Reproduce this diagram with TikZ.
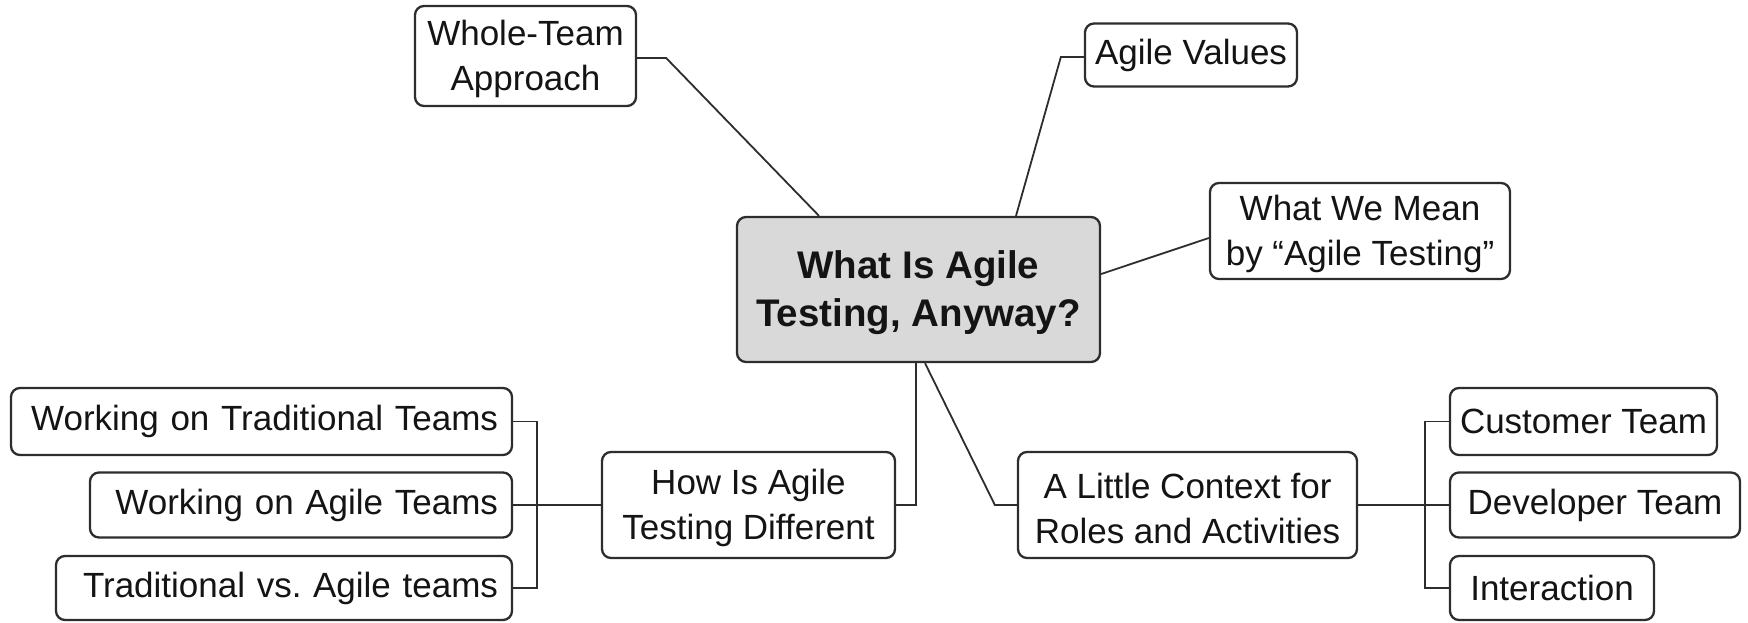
\documentclass[tikz,border=0pt]{standalone}
\usepackage{fontspec}
\setmainfont{Liberation Sans}
\usetikzlibrary{calc}
\definecolor{edge}{RGB}{45,45,45}
\definecolor{ink}{RGB}{20,20,20}
\definecolor{hubfill}{RGB}{217,217,217}
\newcommand\tup{\rule{0pt}{32pt}}
\newcommand\bup{\rule{0pt}{34pt}}
\begin{document}
\frenchspacing
\begin{tikzpicture}[x=1pt,y=-1pt,
  box/.style={draw=edge, line width=2.3pt, rounded corners=9pt, fill=white, inner sep=0pt, align=center, text=ink, font=\fontsize{35}{45}\selectfont},
  hub/.style={box, fill=hubfill, font=\bfseries\fontsize{38.5}{48}\selectfont},
  link/.style={draw=edge, line width=1.8pt}]
\useasboundingbox (0,0) rectangle (1748,623);
% nodes
\node[hub, minimum width=363pt, minimum height=145pt] (c) at (918.5,289.5) {\bup What Is Agile\\Testing, Anyway?};
\node[box, minimum width=221pt, minimum height=100pt] (whole) at (525.5,56) {\tup Whole-Team\\Approach};
\node[box, minimum width=212pt, minimum height=63pt] (values) at (1191,55) {Agile Values};
\node[box, minimum width=300pt, minimum height=96pt] (mean) at (1360,231) {\tup What We Mean\\by “Agile Testing”};
\node[box, minimum width=293pt, minimum height=106pt] (how) at (748.5,505) {\tup How Is Agile\\Testing Different};
\node[box, minimum width=339pt, minimum height=106pt] (ctx) at (1187.5,505) {\tup A Little Context for\\Roles and Activities};
\node[box, minimum width=501pt, minimum height=67pt, text width=473pt, align=right] (trad) at (261.5,421.5) {Working on Traditional Teams};
\node[box, minimum width=422pt, minimum height=65pt, text width=394pt, align=right] (agileteams) at (301,505) {Working on Agile Teams};
\node[box, minimum width=456pt, minimum height=64pt, text width=428pt, align=right] (tvsa) at (284,588) {Traditional vs. Agile teams};
\node[box, minimum width=267pt, minimum height=67pt] (cust) at (1583.5,421.5) {Customer Team};
\node[box, minimum width=290pt, minimum height=65pt] (dev) at (1595,505) {Developer Team};
\node[box, minimum width=204pt, minimum height=64pt] (inter) at (1552,588) {Interaction};
% bracket points
\coordinate (lb) at ($(how.west)+(-64,0)$);
\coordinate (rb) at ($(ctx.east)+(67,0)$);
% connectors
\draw[link] ([yshift=-2pt]whole.east) -- ++(29,0) -- ([xshift=-99.5pt]c.north);
\draw[link] ([yshift=-2pt]values.west) -- ++(-23,0) -- ([xshift=97.5pt]c.north);
\draw[link] ([yshift=15.5pt]c.east) -- ([yshift=-7pt]mean.west);
\draw[link] ([xshift=-2.5pt]c.south) |- (how.east);
\draw[link] ([xshift=6.5pt]c.south) -- ($(ctx.west)+(-22,0)$) -- (ctx.west);
\draw[link] (agileteams.east) -- (how.west);
\draw[link] (trad.east) -- (trad.east -| lb) -- (tvsa.east -| lb) -- (tvsa.east);
\draw[link] (ctx.east) -- (dev.west);
\draw[link] (cust.west) -- (cust.west -| rb) -- (inter.west -| rb) -- (inter.west);
\end{tikzpicture}
\end{document}
